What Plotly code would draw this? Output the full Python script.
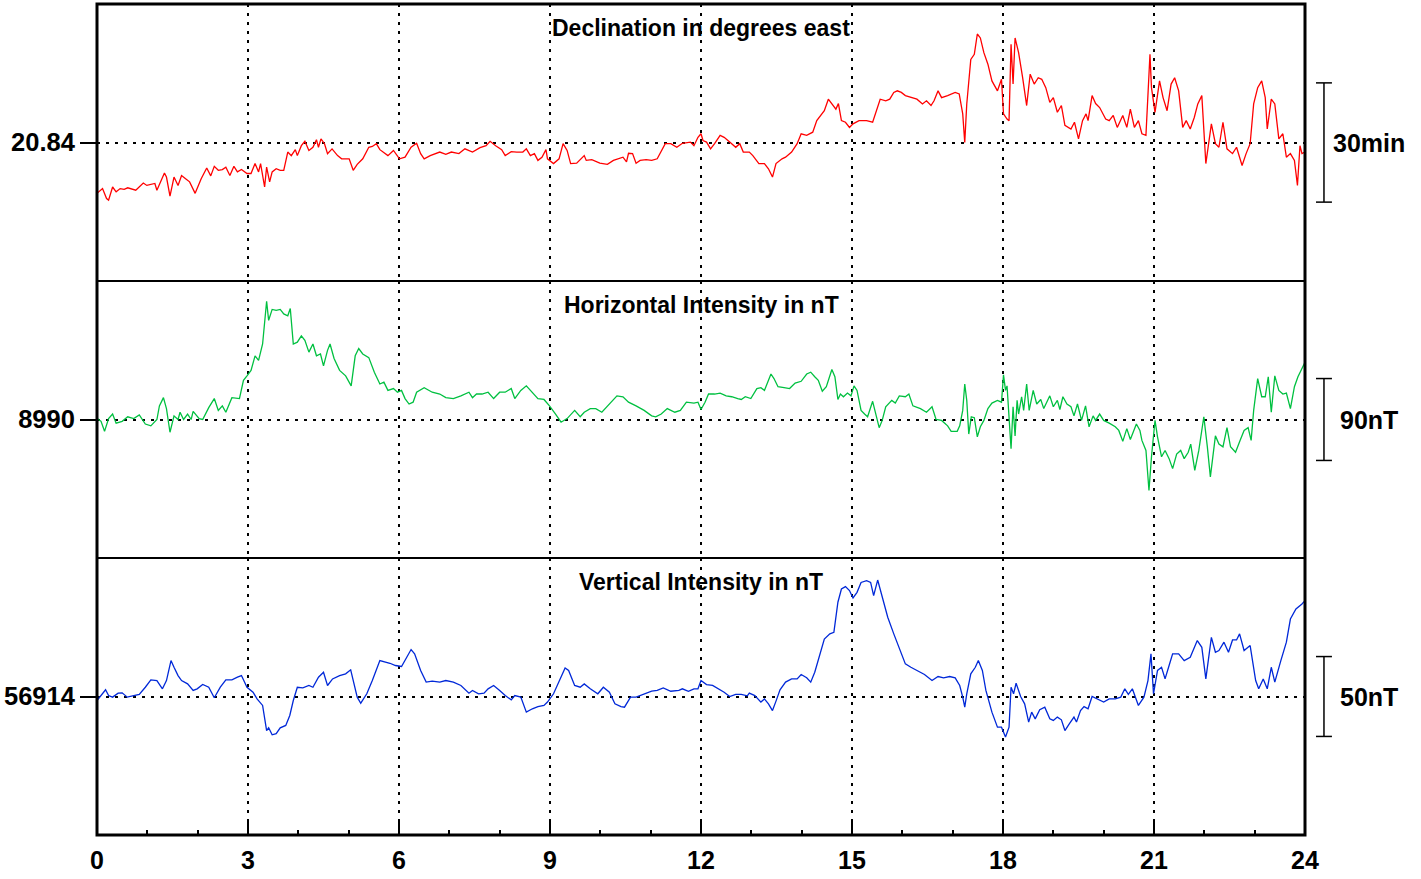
import plotly.graph_objects as go
from plotly.subplots import make_subplots

# baselines of the three panels (value drawn at the dotted line)
d_base = 20.84      # declination, degrees east
h_base = 8990       # horizontal intensity, nT
z_base = 56914      # vertical intensity, nT

# declination: hours UT, deviation from baseline in minutes of arc
d_hours = [0.00, 0.11, 0.19, 0.23, 0.31, 0.38, 0.46, 0.54, 0.61, 0.77, 0.92, 0.99, 1.15, 1.19, 1.34, 1.38, 1.45, 1.53,
           1.61, 1.68, 1.76, 1.84, 1.95, 2.07, 2.18, 2.26, 2.33, 2.41, 2.49, 2.56, 2.64, 2.72, 2.79, 2.87, 2.98, 3.06,
           3.14, 3.21, 3.25, 3.33, 3.37, 3.43, 3.48, 3.56, 3.64, 3.71, 3.79, 3.86, 3.94, 3.98, 4.06, 4.13, 4.21, 4.29,
           4.36, 4.40, 4.45, 4.52, 4.58, 4.67, 4.78, 4.86, 5.01, 5.09, 5.17, 5.28, 5.40, 5.47, 5.55, 5.62, 5.78, 5.89,
           6.01, 6.12, 6.24, 6.35, 6.43, 6.50, 6.62, 6.81, 6.93, 7.04, 7.19, 7.31, 7.46, 7.61, 7.73, 7.81, 7.92, 8.04,
           8.11, 8.23, 8.34, 8.46, 8.53, 8.61, 8.69, 8.76, 8.84, 8.92, 8.95, 9.07, 9.18, 9.26, 9.34, 9.41, 9.53, 9.68,
           9.72, 9.83, 9.99, 10.14, 10.26, 10.37, 10.45, 10.52, 10.56, 10.64, 10.71, 10.79, 10.91, 11.02, 11.13, 11.29,
           11.40, 11.52, 11.63, 11.79, 11.86, 11.94,
           12.00, 12.04, 12.11, 12.19, 12.27, 12.38, 12.46, 12.57, 12.69, 12.77, 12.84, 12.96, 13.03, 13.15, 13.26,
           13.34, 13.42, 13.49, 13.61, 13.68, 13.80, 13.91, 13.99, 14.10, 14.22, 14.30, 14.37, 14.45, 14.53, 14.60,
           14.68, 14.73, 14.79, 14.87, 14.95, 15.02, 15.14, 15.29, 15.41, 15.56, 15.67, 15.75, 15.83, 15.90, 15.98,
           16.06, 16.17, 16.29, 16.40, 16.48, 16.57, 16.63, 16.71, 16.78, 16.90, 17.05, 17.13, 17.20, 17.24, 17.28,
           17.36, 17.43, 17.49, 17.55, 17.62, 17.70, 17.78, 17.89, 17.97, 18.01, 18.08, 18.12, 18.16, 18.20, 18.24,
           18.31, 18.39, 18.47, 18.54, 18.62, 18.70, 18.77, 18.85, 18.93, 19.00, 19.08, 19.16, 19.23, 19.35, 19.42,
           19.50, 19.58, 19.65, 19.69, 19.77, 19.84, 19.92, 20.04, 20.11, 20.19, 20.27, 20.38, 20.46, 20.53, 20.61,
           20.69, 20.76, 20.84, 20.92, 20.95, 21.02, 21.11, 21.18, 21.26, 21.34, 21.41, 21.49, 21.57, 21.64, 21.72,
           21.80, 21.87, 21.95, 22.03, 22.14, 22.22, 22.29, 22.37, 22.45, 22.56, 22.64, 22.75, 22.83, 22.91, 22.98,
           23.06, 23.14, 23.21, 23.25, 23.33, 23.40, 23.48, 23.56, 23.63, 23.71, 23.79, 23.85, 23.90, 23.94, 24.00]
d_dev_min = [-12.8, -11.6, -14.1, -14.5, -11.2, -12.4, -11.6, -11.8, -11.4, -12.0, -10.2, -10.8, -10.3, -12.0, -7.7,
             -8.7, -13.5, -8.7, -10.8, -8.3, -9.1, -9.9, -12.8, -9.1, -6.4, -8.4, -6.0, -7.0, -6.8, -6.2, -8.3, -6.0,
             -7.4, -6.8, -7.8, -7.8, -5.3, -7.4, -5.3, -11.2, -6.2, -9.9, -7.4, -6.6, -7.0, -7.0, -2.4, -3.3, -1.8,
             -3.3, -0.8, 0.3, -2.0, -1.2, 0.7, -1.2, 0.9, -0.3, -2.8, -1.6, -3.3, -4.1, -4.1, -7.0, -5.5, -4.1, -1.2,
             -1.0, -0.3, -1.8, -3.3, -2.0, -4.1, -3.7, -1.2, -0.2, -2.8, -4.1, -3.3, -2.4, -3.0, -2.4, -2.8, -1.6,
             -2.4, -1.3, -0.8, 0.3, -0.8, -1.8, -3.3, -2.3, -2.4, -2.4, -1.6, -3.3, -2.8, -4.5, -3.7, -1.8, -4.1,
             -5.3, -4.1, -0.3, -2.0, -5.3, -5.2, -3.3, -4.5, -4.3, -5.2, -5.5, -4.5, -4.1, -3.7, -4.9, -2.7, -2.8,
             -5.2, -4.5, -4.3, -4.5, -4.1, -0.3, -0.3, -1.2, -0.2, 0.1, -0.8, 1.3,
             2.2, 0.5, 0.1, -1.6, -0.3, 1.8, 1.3, 0.1, -1.2, -0.3, -2.4, -2.4, -3.3, -5.3, -5.3,
             -6.6, -8.7, -5.3, -4.1, -3.7, -2.4, -0.3, 2.2, 1.8, 2.6, 5.5, 6.8, 8.0, 10.9, 9.8,
             8.4, 9.8, 5.5, 5.1, 3.8, 4.7, 5.5, 5.5, 5.1, 10.9, 10.5, 10.9, 12.6, 13.0, 12.6,
             11.8, 11.3, 10.9, 9.7, 10.5, 9.3, 10.5, 13.0, 11.3, 11.8, 12.6, 12.2, 7.2, 0.0, 9.7,
             20.9, 22.2, 27.3, 26.3, 22.6, 19.7, 15.5, 13.0, 15.9, 7.2, 5.9, 5.5, 24.7, 14.7, 26.3,
             22.6, 16.3, 9.3, 17.2, 14.7, 16.3, 15.9, 13.8, 10.1, 11.3, 7.6, 9.3, 4.3, 3.4, 5.1,
             0.9, 5.5, 7.2, 5.5, 11.8, 9.8, 8.8, 5.9, 5.5, 6.8, 3.8, 6.8, 3.8, 8.4, 3.8,
             5.5, 2.2, 1.8, 22.2, 13.8, 7.6, 15.5, 11.3, 8.0, 14.7, 16.3, 13.0, 3.8, 5.5, 3.4,
             6.3, 9.7, 11.8, -5.3, 4.7, -0.3, -1.2, 5.1, -1.6, -2.8, -1.2, -5.8, -2.8, -0.3, 9.7,
             13.8, 15.5, 11.3, 3.4, 10.9, 9.7, 0.9, 2.2, -3.7, -2.8, -4.5, -10.8, -0.8, -2.8, -2.4]

# horizontal intensity: hours UT, deviation from baseline in nT
h_hours = [0.00, 0.08, 0.15, 0.23, 0.31, 0.38, 0.50, 0.61, 0.73, 0.84, 0.96, 1.07, 1.19, 1.24, 1.32, 1.38, 1.45, 1.53,
           1.61, 1.65, 1.72, 1.80, 1.87, 1.91, 2.03, 2.10, 2.22, 2.33, 2.41, 2.49, 2.56, 2.68, 2.83, 2.91, 2.98, 3.06,
           3.14, 3.21, 3.29, 3.37, 3.41, 3.48, 3.56, 3.64, 3.71, 3.79, 3.84, 3.90, 3.98, 4.06, 4.13, 4.21, 4.29, 4.36,
           4.44, 4.50, 4.58, 4.63, 4.71, 4.82, 4.94, 5.05, 5.13, 5.20, 5.28, 5.40, 5.51, 5.62, 5.70, 5.78, 5.89, 5.97,
           6.05, 6.12, 6.20, 6.28, 6.35, 6.50, 6.66, 6.81, 6.93, 7.08, 7.23, 7.39, 7.46, 7.54, 7.65, 7.77, 7.88, 8.00,
           8.11, 8.23, 8.30, 8.42, 8.53, 8.65, 8.76, 8.88, 8.99, 9.11, 9.22, 9.34, 9.49, 9.60, 9.68, 9.80, 9.91, 10.03,
           10.18, 10.33, 10.45, 10.56, 10.71, 10.87, 11.02, 11.10, 11.21, 11.33, 11.48, 11.59, 11.71, 11.86, 11.94,
           12.00, 12.08, 12.15, 12.27, 12.38, 12.50, 12.61, 12.73, 12.80, 12.88, 12.99, 13.11, 13.19, 13.26, 13.39,
           13.45, 13.53, 13.65, 13.76, 13.87, 13.99, 14.10, 14.18, 14.26, 14.33, 14.41, 14.49, 14.60, 14.66, 14.72,
           14.77, 14.83, 14.91, 14.98, 15.04, 15.10, 15.18, 15.25, 15.31, 15.41, 15.48, 15.54, 15.60, 15.67, 15.79,
           15.86, 15.94, 16.06, 16.13, 16.21, 16.36, 16.48, 16.59, 16.67, 16.78, 16.90, 16.97, 17.09, 17.14, 17.20,
           17.24, 17.28, 17.32, 17.37, 17.43, 17.49, 17.55, 17.62, 17.70, 17.78, 17.89, 17.97, 18.01, 18.05, 18.08,
           18.12, 18.16, 18.20, 18.24, 18.28, 18.31, 18.37, 18.41, 18.47, 18.52, 18.60, 18.67, 18.75, 18.81, 18.93,
           19.00, 19.08, 19.13, 19.19, 19.27, 19.35, 19.41, 19.48, 19.56, 19.64, 19.71, 19.79, 19.84, 19.92, 20.00,
           20.11, 20.23, 20.30, 20.38, 20.46, 20.53, 20.65, 20.72, 20.76, 20.84, 20.90, 20.95, 21.02, 21.07, 21.15,
           21.22, 21.30, 21.37, 21.45, 21.53, 21.60, 21.68, 21.73, 21.81, 21.89, 21.99, 22.06, 22.12, 22.22, 22.29,
           22.37, 22.45, 22.52, 22.62, 22.71, 22.79, 22.87, 22.93, 22.98, 23.06, 23.14, 23.21, 23.27, 23.33, 23.40,
           23.48, 23.56, 23.63, 23.71, 23.79, 23.86, 23.94, 24.00]
h_dev_nt = [1.5, -2, -13, 1, 6, -4, -2, 3, 1, 5, -5, -7, 0, 15, 24, 12, -14, 4,
            0, 8, 0, 6, 0, 9, 1, 0, 13, 23, 10, 15, 8, 24, 23, 43, 48, 54,
            70, 65, 83, 130, 109, 121, 120, 121, 116, 114, 122, 83, 85, 92, 87, 74, 83, 70,
            72, 59, 76, 83, 67, 54, 48, 37, 70, 78, 72, 68, 52, 39, 41, 32, 34, 30,
            32, 23, 17, 19, 30, 35, 30, 28, 24, 23, 26, 30, 24, 28, 28, 30, 23, 30,
            30, 34, 23, 32, 37, 30, 23, 22, 15, 6, -3, 1, 10, 3, 8, 12, 12, 8,
            17, 26, 25, 19, 15, 10, 4, 3, 6, 12, 8, 10, 19, 18, 19,
            11, 19, 28, 28, 29, 26, 25, 23, 22, 25, 23, 34, 35, 32, 50,
            45, 36, 35, 34, 40, 42, 50, 52, 47, 43, 31, 36, 55, 47, 22,
            28, 25, 29, 26, 37, 32, 10, 6, 3, 20, 6, -9, -1, 14, 21,
            18, 26, 25, 28, 15, 12, 8, 14, 0, -1, -7, -13, -13, -7, 10,
            39, 21, -16, 3, 2, -19, -8, -1, 12, 18, 21, 19, 49, 32, 37,
            3, -32, 14, -18, 21, 6, 25, 10, 39, 10, 32, 17, 22, 12, 26,
            14, 21, 11, 25, 17, 14, 4, 17, -1, 15, -8, 4, -1, 6, -1,
            -4, -8, -12, -24, -10, -22, -5, -12, -23, -34, -78, -41, -1, -19, -41,
            -34, -43, -54, -38, -34, -43, -36, -27, -56, -34, 3, -30, -63, -18, -27,
            -30, -9, -30, -36, -23, -12, -9, -23, 10, 45, 25, 25, 47, 8, 48,
            32, 28, 29, 12, 36, 47, 56, 63]

# vertical intensity: hours UT, deviation from baseline in nT
z_hours = [0.00, 0.08, 0.17, 0.23, 0.31, 0.42, 0.50, 0.60, 0.73, 0.84, 0.96, 1.07, 1.19, 1.30, 1.38, 1.47, 1.53, 1.61,
           1.68, 1.80, 1.91, 1.99, 2.10, 2.22, 2.33, 2.45, 2.56, 2.68, 2.79, 2.87, 2.98, 3.10, 3.18, 3.29, 3.37, 3.41,
           3.48, 3.56, 3.64, 3.75, 3.83, 3.90, 3.98, 4.09, 4.21, 4.29, 4.40, 4.50, 4.58, 4.68, 4.82, 4.94, 5.04, 5.09,
           5.17, 5.24, 5.36, 5.47, 5.62, 5.82, 5.93, 6.05, 6.12, 6.24, 6.31, 6.43, 6.54, 6.66, 6.81, 6.93, 7.08, 7.23,
           7.39, 7.46, 7.58, 7.69, 7.77, 7.88, 8.00, 8.11, 8.23, 8.30, 8.42, 8.53, 8.65, 8.76, 8.88, 8.95, 9.07, 9.18,
           9.30, 9.37, 9.49, 9.60, 9.68, 9.80, 9.95, 10.06, 10.18, 10.29, 10.41, 10.48, 10.60, 10.71, 10.87, 11.02,
           11.13, 11.25, 11.40, 11.56, 11.63, 11.75, 11.86, 11.94,
           12.00, 12.11, 12.23, 12.34, 12.46, 12.57, 12.69, 12.80, 12.92, 12.96, 13.07, 13.19, 13.26, 13.34, 13.42,
           13.49, 13.57, 13.68, 13.80, 13.91, 13.99, 14.10, 14.18, 14.26, 14.33, 14.45, 14.56, 14.64, 14.72, 14.79,
           14.87, 14.95, 15.02, 15.10, 15.18, 15.29, 15.37, 15.43, 15.51, 15.60, 15.71, 15.83, 15.94, 16.06, 16.17,
           16.29, 16.44, 16.59, 16.71, 16.82, 16.94, 17.05, 17.14, 17.20, 17.24, 17.28, 17.36, 17.45, 17.51, 17.59,
           17.66, 17.78, 17.89, 17.97, 18.05, 18.12, 18.16, 18.21, 18.26, 18.35, 18.43, 18.51, 18.57, 18.64, 18.73,
           18.83, 18.93, 19.00, 19.08, 19.16, 19.23, 19.31, 19.41, 19.46, 19.54, 19.61, 19.69, 19.77, 19.88, 20.00,
           20.11, 20.23, 20.34, 20.42, 20.49, 20.57, 20.69, 20.80, 20.88, 20.94, 20.99, 21.07, 21.15, 21.22, 21.30,
           21.37, 21.49, 21.60, 21.72, 21.86, 21.95, 22.03, 22.14, 22.22, 22.29, 22.39, 22.48, 22.56, 22.64, 22.70,
           22.79, 22.91, 23.02, 23.08, 23.17, 23.25, 23.33, 23.40, 23.52, 23.63, 23.71, 23.82, 23.94, 24.00]
z_dev_nt = [-2.5, 0.6, 4.2, 0.6, -0.4, 2.1, 2.3, -0.4, 0.6, 1.3, 5.8, 10.4, 10.0, 4.8, 10.0, 22.5, 18.3, 13.1,
            10.0, 7.9, 3.8, 4.8, 7.5, 5.8, -0.8, 5.8, 10.4, 10.4, 12.1, 13.1, 5.8, 2.7, -1.5, -5.6, -21.3, -19.6,
            -24.0, -23.3, -19.6, -18.1, -11.9, -2.5, 5.8, 5.4, 6.9, 5.8, 12.1, 15.2, 6.9, 11.0, 13.1, 14.2, 16.7, 10.0,
            -0.4, -4.2, 1.7, 10.0, 22.5, 20.8, 19.4, 18.8, 22.5, 29.4, 26.7, 16.3, 9.0, 9.6, 9.0, 10.0, 9.0, 6.9,
            2.1, 3.8, 1.7, 2.1, 4.8, 6.9, 3.8, 0.6, -2.1, 0.6, -0.4, -9.8, -7.7, -6.3, -5.6, -3.5, 1.7, 9.0,
            17.9, 16.3, 6.9, 5.8, 7.9, 4.8, 1.7, 5.8, 2.7, -4.6, -6.3, -6.7, -0.4, -0.4, 1.7, 3.3,
            3.8, 5.4, 3.3, 3.8, 4.8, 3.3, 4.8, 4.8,
            10.0, 7.5, 6.9, 4.8, 2.7, 0.0, 1.3, 1.3, 0.4, 2.1, 0.6, -3.5, -1.5, -4.6, -8.8,
            -2.9, 4.2, 9.0, 11.0, 11.0, 13.8, 11.7, 9.0, 15.2, 23.5, 36.0, 39.2, 40.2, 59.0, 67.3,
            68.8, 66.3, 61.7, 65.2, 71.4, 72.5, 71.4, 63.1, 72.9, 63.1, 49.6, 39.2, 29.8, 20.4, 18.3,
            16.3, 13.8, 10.0, 12.5, 11.7, 12.5, 11.7, 6.9, -0.4, -6.7, 1.7, 14.2, 18.3, 22.5, 16.3,
            3.8, -9.8, -19.2, -19.2, -25.4, -19.2, 5.8, 1.7, 8.3, 0.0, -4.6, -16.0, -9.8, -14.0, -8.3,
            -6.7, -14.0, -15.0, -12.9, -14.6, -21.3, -17.5, -12.9, -16.0, -8.8, -6.3, -7.7, 0.0, -1.5, -3.5,
            -1.5, -1.5, -0.4, 4.8, 1.3, 4.8, -5.6, -0.4, 10.0, 26.7, 1.7, 16.3, 18.3, 11.0, 19.4,
            26.7, 26.7, 22.5, 24.6, 35.0, 30.8, 11.0, 37.0, 27.7, 28.8, 34.0, 27.7, 35.4, 35.4, 39.2,
            28.8, 31.9, 10.0, 4.8, 11.0, 4.8, 18.3, 9.0, 22.5, 34.0, 48.5, 54.8, 57.9, 60.0]

panel_titles = ["Declination in degrees east", "Horizontal Intensity in nT", "Vertical Intensity in nT"]
scale_labels = ["30min", "90nT", "50nT"]
scale_half = [0.25, 45, 25]          # half length of each scale bar, in axis units
hour_ticks = list(range(0, 25, 3))

FONT = "Liberation Sans, Arial, Helvetica, sans-serif"

d_vals = [d_base + m / 60 for m in d_dev_min]
h_vals = [h_base + v for v in h_dev_nt]
z_vals = [z_base + v for v in z_dev_nt]

fig = make_subplots(rows=3, cols=1, shared_xaxes=True, vertical_spacing=0)
fig.add_trace(go.Scatter(x=d_hours, y=d_vals, mode="lines", line=dict(color="#FF0000", width=1.3)), row=1, col=1)
fig.add_trace(go.Scatter(x=h_hours, y=h_vals, mode="lines", line=dict(color="#00C040", width=1.3)), row=2, col=1)
fig.add_trace(go.Scatter(x=z_hours, y=z_vals, mode="lines", line=dict(color="#0028D8", width=1.3)), row=3, col=1)

# axis ranges: baseline sits mid-panel
ranges = [[d_base - 0.5808, d_base + 0.5808], [h_base - 152.2, h_base + 152.2], [z_base - 86.7, z_base + 86.7]]
bases = [d_base, h_base, z_base]
base_text = ["20.84", "8990", "56914"]

for i in range(3):
    fig.update_yaxes(range=ranges[i], tickvals=[bases[i]], ticktext=[base_text[i]],
                     showgrid=True, gridcolor="black", griddash="3px,6px", gridwidth=1.5,
                     ticks="outside", ticklen=16, tickwidth=2, tickcolor="black",
                     zeroline=False, showline=False,
                     tickfont=dict(family=FONT, size=25.5, color="black", weight="bold"),
                     row=i + 1, col=1)
    fig.update_xaxes(range=[0, 24], tickvals=hour_ticks, showgrid=True, gridcolor="black",
                     griddash="3px,6px", gridwidth=1.5, zeroline=False, showline=False,
                     row=i + 1, col=1)

fig.update_xaxes(showticklabels=False, ticks="", row=1, col=1)
fig.update_xaxes(showticklabels=False, ticks="", row=2, col=1)
fig.update_xaxes(ticks="inside", ticklen=13, tickwidth=2, tickcolor="black",
                 ticktext=[str(t) for t in hour_ticks], ticklabelstandoff=8,
                 tickfont=dict(family=FONT, size=25, color="black", weight="bold"),
                 minor=dict(dtick=1, tick0=0, ticks="inside", ticklen=5, tickwidth=2, tickcolor="black", showgrid=False),
                 row=3, col=1)

# frame and panel dividers
fig.add_shape(type="rect", xref="paper", yref="paper", x0=0, x1=1, y0=0, y1=1,
              line=dict(color="black", width=3), layer="above")
for yy in [1 / 3, 2 / 3]:
    fig.add_shape(type="line", xref="paper", yref="paper", x0=0, x1=1, y0=yy, y1=yy,
                  line=dict(color="black", width=2), layer="above")

yrefs = ["y", "y2", "y3"]
for i in range(3):
    fig.add_annotation(text=panel_titles[i], xref="paper", x=0.5, yref=yrefs[i] + " domain", y=1,
                       yanchor="middle", yshift=-23.5, showarrow=False,
                       font=dict(family=FONT, size=23, color="black", weight="bold"))
    # scale bar to the right of the panel
    lo, hi = bases[i] - scale_half[i], bases[i] + scale_half[i]
    fig.add_shape(type="line", xref="paper", yref=yrefs[i], x0=1.0157, x1=1.0157, y0=lo, y1=hi,
                  line=dict(color="black", width=1.5))
    for yy in [lo, hi]:
        fig.add_shape(type="line", xref="paper", yref=yrefs[i], x0=1.0091, x1=1.0223, y0=yy, y1=yy,
                      line=dict(color="black", width=1.5))
    fig.add_annotation(text=scale_labels[i], xref="paper", x=1.0533, xanchor="center",
                       yref=yrefs[i], y=bases[i], yanchor="middle", showarrow=False,
                       font=dict(family=FONT, size=25, color="black", weight="bold"))

fig.update_layout(width=1421, height=879, autosize=False,
                  margin=dict(l=97, r=116, t=4, b=44),
                  plot_bgcolor="white", paper_bgcolor="white",
                  showlegend=False)

# page margin off so the figure sits at the window's top-left corner
fig.write_html("out.html", config={"displayModeBar": False},
               post_script="document.body.style.margin='0';")
